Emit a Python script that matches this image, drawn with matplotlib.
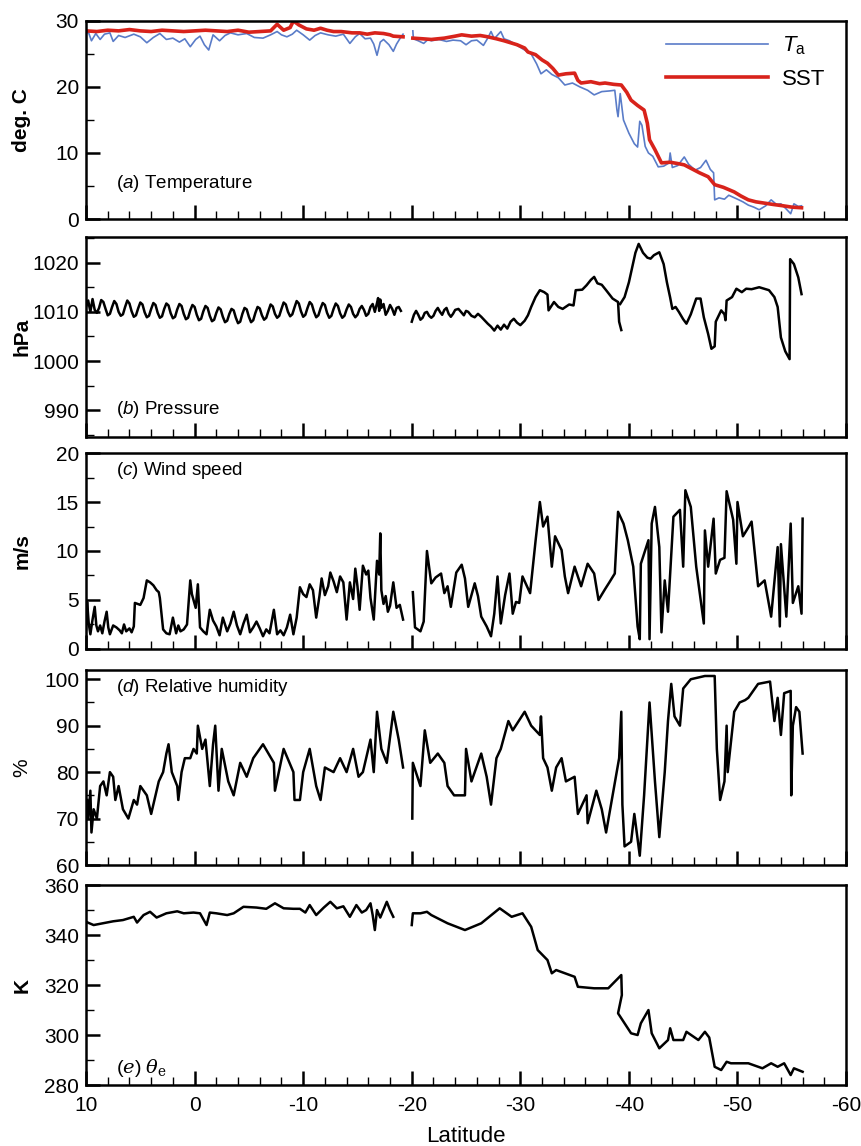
import numpy as np
import matplotlib
matplotlib.use("Agg")
import matplotlib.pyplot as plt
from matplotlib.ticker import MultipleLocator

plt.rcParams['font.family'] = ['Liberation Sans', 'DejaVu Sans']
plt.rcParams['mathtext.fontset'] = 'custom'
plt.rcParams['mathtext.rm'] = 'Liberation Sans'
plt.rcParams['mathtext.it'] = 'Liberation Sans:italic'
plt.rcParams['axes.unicode_minus'] = False

nan = np.nan

# (a) temperature
sst_lat = [10, 9, 8, 7, 6, 5, 4, 3, 2, 1, 0, -1, -2, -3, -4, -5, -6, -7, -7.6, -8.2, -8.8, -9.1, -9.6,
           -10.3, -11, -11.6, -12.2, -12.8, -13.5, -14.5, -15.2, -15.9, -16.6, -17.4, -18.0, -18.3, -19.2, nan,
           -20.1, -21.0, -21.8, -23.0, -24.0, -24.6, -25.5, -26.3, -27.0, -27.8, -28.5, -28.9, -29.7, -30.4,
           -30.7, -31.4, -32.0, -32.5, -33.0, -33.5, -34.2, -35.0, -35.3, -35.6, -36.5, -37.3, -37.8, -38.6,
           -39.3, -39.8, -40.2, -40.8, -41.4, -41.7, -41.9, -42.4, -43.0, -43.8, -44.5, -45.1, -45.8, -46.5,
           -47.3, -47.9, -48.7, -49.7, -50.3, -51.0, -51.7, -52.5, -53.3, -54.2, -55.0, -55.9]
sst = [28.5, 28.4, 28.6, 28.5, 28.7, 28.5, 28.4, 28.6, 28.5, 28.4, 28.5, 28.6, 28.5, 28.4, 28.6, 28.3, 28.4,
       28.5, 29.5, 28.6, 29.0, 30.0, 29.4, 28.8, 28.6, 28.9, 28.6, 28.4, 28.4, 28.2, 28.2, 28.0, 28.2, 28.1,
       27.9, 27.7, 27.6, nan,
       27.4, 27.3, 27.2, 27.4, 27.7, 27.9, 27.7, 27.8, 27.6, 27.3, 27.0, 26.8, 26.4, 25.9, 25.3, 24.9, 24.1,
       23.6, 22.8, 21.8, 22.0, 22.1, 21.0, 20.6, 20.8, 20.5, 20.6, 20.4, 20.3, 19.2, 18.0, 17.2, 16.5, 14.5,
       12.0, 10.5, 8.5, 8.6, 8.4, 8.2, 7.6, 7.0, 6.4, 5.2, 4.8, 4.1, 3.5, 2.9, 2.6, 2.4, 2.2, 2.0, 1.8, 1.7]

ta_lat = [10, 9.8, 9.5, 9.1, 8.7, 8.3, 7.8, 7.5, 7.0, 6.4, 5.6, 5.0, 4.4, 3.8, 3.2, 2.6, 2.0, 1.4, 0.9, 0.4,
          -0.1, -0.5, -0.9, -1.3, -1.7, -2.3, -2.8, -3.3, -4.0, -4.8, -5.5, -6.3, -7.0, -7.6, -8.0, -8.5, -9.0,
          -9.4, -10.0, -10.6, -11.1, -11.6, -12.3, -13.0, -13.7, -14.3, -14.8, -15.2, -15.7, -16.2, -16.5,
          -16.8, -17.1, -17.4, -17.9, -18.3, -18.6, -18.9, -19.2, nan,
          -20.1, -20.15, -20.6, -21.1, -21.5, -21.8, -22.5, -23.2, -23.8, -24.5, -25.0, -25.5, -26.0, -26.6,
          -27.0, -27.3, -27.6, -28.2, -28.5, -29.0, -29.5, -30.2, -31.0, -31.5, -31.9, -32.4, -32.9, -33.5,
          -34.1, -34.8, -35.5, -36.2, -36.8, -37.5, -38.2, -38.7, -38.9, -39.0, -39.2, -39.5, -40.0, -40.5,
          -40.8, -41.0, -41.2, -41.5, -41.8, -42.2, -42.7, -43.2, -43.7, -43.8, -44.0, -44.5, -45.1, -45.5,
          -46.1, -46.6, -47.1, -47.5, -47.8, -47.9, -48.3, -48.8, -49.2, -50.0, -50.5, -51.0, -51.5, -52.0,
          -52.6, -53.1, -53.6, -54.0, -54.5, -54.9, -55.2, -55.6, -55.9]
ta = [28.0, 28.4, 27.0, 28.1, 27.2, 28.0, 28.2, 26.9, 27.8, 27.5, 28.0, 27.6, 26.7, 27.5, 28.1, 27.2, 27.4,
      26.8, 27.3, 26.1, 27.2, 27.7, 26.4, 25.6, 27.9, 27.0, 27.8, 28.2, 27.9, 28.1, 27.5, 27.4, 27.9, 28.4,
      27.9, 27.6, 28.0, 28.6, 27.9, 27.1, 27.8, 28.2, 27.9, 27.7, 28.0, 26.6, 27.6, 28.1, 27.3, 27.4, 26.5,
      24.8, 26.8, 27.2, 26.4, 25.4, 26.5, 27.3, 28.0, nan,
      28.5, 27.3, 27.0, 26.6, 27.2, 27.0, 27.2, 26.9, 27.1, 27.0, 26.4, 27.0, 27.1, 26.3, 27.4, 28.4, 27.3,
      28.4, 27.3, 27.0, 26.5, 25.8, 25.0, 23.5, 22.0, 22.6, 21.9, 21.4, 20.3, 20.6, 20.0, 19.5, 18.8, 19.3,
      19.4, 19.5, 16.5, 15.5, 19.0, 15.0, 13.0, 11.4, 10.9, 14.8, 14.2, 11.0, 10.0, 9.5, 7.9, 8.0, 8.5, 10.0,
      7.8, 8.1, 9.4, 8.3, 7.4, 7.8, 8.9, 7.5, 7.0, 2.9, 3.2, 3.0, 3.6, 3.0, 2.6, 2.1, 1.8, 1.4, 2.0, 2.9,
      2.2, 2.3, 1.5, 0.8, 2.3, 1.9, 2.0]

# (b) pressure
p_lat = [10.0, 9.8, 9.6, 9.4, 9.2, 9.0, 8.8, 8.6, 8.4, 8.2, 8.0, 7.8, 7.6, 7.4, 7.2, 7.0, 6.8, 6.6, 6.4, 6.2,
         6.0, 5.8, 5.6, 5.4, 5.2, 5.0, 4.8, 4.6, 4.4, 4.2, 4.0, 3.8, 3.6, 3.4, 3.2, 3.0, 2.8, 2.6, 2.4, 2.2,
         2.0, 1.8, 1.6, 1.4, 1.2, 1.0, 0.8, 0.6, 0.4, 0.2, 0.0, -0.2, -0.4, -0.6, -0.8, -1.0, -1.2, -1.4,
         -1.6, -1.8, -2.0, -2.2, -2.4, -2.6, -2.8, -3.0, -3.2, -3.4, -3.6, -3.8, -4.0, -4.2, -4.4, -4.6,
         -4.8, -5.0, -5.2, -5.4, -5.6, -5.8, -6.0, -6.2, -6.4, -6.6, -6.8, -7.0, -7.2, -7.4, -7.6, -7.8,
         -8.0, -8.2, -8.4, -8.6, -8.8, -9.0, -9.2, -9.4, -9.6, -9.8, -10.0, -10.2, -10.4, -10.6, -10.8,
         -11.0, -11.2, -11.4, -11.6, -11.8, -12.0, -12.2, -12.4, -12.6, -12.8, -13.0, -13.2, -13.4, -13.6,
         -13.8, -14.0, -14.2, -14.4, -14.6, -14.8, -15.0, -15.2, -15.4, -15.6, -15.8, -16.0, -16.2, -16.4,
         -16.6, -16.8, -16.9, -17.0, -17.1, -17.2, -17.4, -17.6, -17.8, -18.0, -18.2, -18.4, -18.6, -18.8,
         -19.0, nan,
         -20.0, -20.2, -20.4, -20.6, -20.8, -21.0, -21.2, -21.4, -21.6, -21.8, -22.0, -22.2, -22.4, -22.6,
         -22.8, -23.0, -23.2, -23.4, -23.6, -23.8, -24.0, -24.3, -24.6, -24.8, -25.0, -25.2, -25.5, -25.8,
         -26.1, -26.4, -26.7, -27.0, -27.3, -27.6, -27.9, -28.2, -28.5, -28.8, -29.1, -29.4, -29.7, -30.0,
         -30.4, -30.7, -31.0, -31.4, -31.8, -32.2, -32.5, -32.6, -33.1, -33.5, -33.9, -34.5, -34.9, -35.1,
         -35.7, -36.1, -36.5, -36.8, -37.1, -37.5, -37.9, -38.5, -39.0, -39.1, -39.3, nan,
         -39.2, -39.6, -40.0, -40.3, -40.6, -40.9, -41.3, -41.7, -42.0, -42.3, -42.8, -43.2, -43.5, -43.8,
         -44.0, -44.3, -44.6, -45.0, -45.3, -45.7, -46.2, -46.6, -46.9, -47.3, -47.6, -47.9, -48.0, -48.5,
         -48.8, -48.9, -49.0, -49.5, -49.9, -50.4, -50.8, -51.3, -52.0, -52.9, -53.4, -53.7, -54.0, -54.4,
         -54.8, -54.85, -55.2, -55.6, -55.9]
pres = [1011.0, 1012.3, 1010.0, 1012.6, 1010.4, 1009.8, 1010.8, 1012.4, 1012.0, 1010.6, 1009.3, 1009.6,
        1011.0, 1012.2, 1011.6, 1010.0, 1009.2, 1009.5, 1011.0, 1012.3, 1011.7, 1010.1, 1009.0, 1009.3,
        1010.7, 1011.9, 1011.5, 1009.9, 1008.9, 1009.2, 1010.6, 1011.8, 1011.4, 1009.8, 1008.8, 1009.1,
        1010.6, 1011.7, 1011.3, 1009.7, 1008.7, 1009.0, 1010.5, 1011.6, 1011.2, 1009.6, 1008.5, 1008.8,
        1010.3, 1011.4, 1011.0, 1009.4, 1008.3, 1008.6, 1010.1, 1011.2, 1010.8, 1009.2, 1008.1, 1008.4,
        1009.8, 1010.9, 1010.5, 1009.0, 1007.9, 1008.2, 1009.6, 1010.6, 1010.3, 1008.8, 1007.7, 1008.0,
        1009.6, 1010.8, 1010.5, 1009.0, 1007.9, 1008.3, 1009.8, 1011.0, 1010.7, 1009.3, 1008.4, 1008.8,
        1010.2, 1011.5, 1011.1, 1009.6, 1008.8, 1009.2, 1010.6, 1011.9, 1011.5, 1010.0, 1009.1, 1009.5,
        1010.9, 1012.2, 1011.7, 1010.1, 1009.0, 1009.4, 1010.8, 1012.0, 1011.5, 1010.0, 1008.9, 1009.3,
        1010.7, 1011.8, 1011.4, 1009.8, 1008.8, 1009.2, 1010.6, 1011.7, 1011.2, 1009.7, 1008.8, 1009.2,
        1010.5, 1011.5, 1011.0, 1009.6, 1008.9, 1009.4, 1010.6, 1011.2, 1010.4, 1009.2, 1009.6, 1011.0,
        1011.6, 1010.0, 1011.8, 1012.8, 1010.2, 1012.5, 1010.8, 1011.6, 1009.4, 1010.2, 1011.4, 1010.6,
        1009.4, 1010.8, 1011.0, 1010.2, nan,
        1008.0, 1009.4, 1010.2, 1009.4, 1008.4, 1008.8, 1009.8, 1010.0, 1009.2, 1008.8, 1009.2, 1010.2,
        1010.8, 1010.0, 1009.4, 1010.4, 1010.8, 1009.6, 1009.0, 1009.6, 1010.4, 1010.6, 1009.8, 1009.3,
        1010.2, 1010.0, 1009.2, 1008.9, 1009.6, 1009.0, 1008.3, 1007.6, 1007.0, 1006.2, 1007.2, 1006.4,
        1007.4, 1006.6, 1008.0, 1008.6, 1007.8, 1007.3, 1008.2, 1009.3, 1011.0, 1013.0, 1014.4, 1014.0,
        1013.5, 1010.3, 1012.0, 1011.0, 1010.6, 1011.5, 1011.3, 1014.4, 1014.5, 1015.4, 1016.5, 1017.1,
        1015.8, 1015.5, 1014.4, 1012.7, 1012.0, 1008.0, 1006.3, nan,
        1011.6, 1013.0, 1016.0, 1019.0, 1022.0, 1023.8, 1022.0, 1021.0, 1020.8, 1021.5, 1022.1, 1019.7,
        1016.0, 1012.9, 1010.6, 1011.0, 1010.0, 1008.5, 1007.6, 1009.5, 1012.7, 1012.7, 1008.9, 1005.5,
        1002.5, 1003.0, 1008.0, 1010.3, 1009.5, 1008.3, 1012.3, 1013.0, 1014.7, 1014.0, 1014.7, 1014.6,
        1015.0, 1014.4, 1013.0, 1011.0, 1004.8, 1002.0, 1000.4, 1020.7, 1019.7, 1017.0, 1013.6]

# (c) wind speed
w_lat = [10.0, 9.9, 9.75, 9.6, 9.4, 9.2, 9.05, 8.9, 8.7, 8.5, 8.3, 8.1, 7.95, 7.8, 7.5, 7.2, 6.9, 6.7, 6.5,
         6.3, 6.0, 5.8, 5.6, 5.5, 5.0, 4.7, 4.4, 4.1, 3.8, 3.5, 3.3, 3.2, 2.9, 2.6, 2.3, 2.0, 1.7, 1.5, 1.3,
         1.0, 0.7, 0.4, 0.25, 0.1, -0.1, -0.3, -0.5, -0.8, -1.1, -1.4, -1.7, -2.0, -2.3, -2.6, -3.0, -3.3,
         -3.6, -3.9, -4.2, -4.5, -4.8, -5.1, -5.4, -5.7, -6.0, -6.3, -6.6, -6.9, -7.3, -7.6, -7.9, -8.2,
         -8.5, -8.8, -9.1, -9.4, -9.7, -10.0, -10.3, -10.6, -10.9, -11.2, -11.5, -11.7, -12.0, -12.3, -12.5,
         -12.8, -13.1, -13.4, -13.7, -14.0, -14.3, -14.6, -14.8, -15.0, -15.2, -15.5, -15.8, -16.0, -16.2,
         -16.5, -16.8, -17.0, -17.1, -17.2, -17.4, -17.6, -17.8, -18.0, -18.3, -18.6, -18.9, -19.2, nan,
         -20.1, -20.3, -20.8, -21.1, -21.4, -21.8, -22.2, -22.7, -23.0, -23.3, -23.6, -24.1, -24.6, -24.9,
         -25.2, -25.8, -26.1, -26.4, -26.9, -27.3, -27.6, -27.9, -28.2, -28.6, -29.0, -29.3, -29.6, -29.9,
         -30.2, -30.9, -31.4, -31.8, -32.1, -32.5, -32.9, -33.2, -33.8, -34.1, -34.4, -35.0, -35.6, -36.2,
         -36.8, -37.2, -37.8, -38.2, -38.7, -39.0, -39.5, -39.9, -40.4, -40.8, -41.0, -41.1, -41.8, -41.9,
         -42.1, -42.4, -42.8, -43.0, -43.3, -43.6, -44.1, -44.7, -45.0, -45.2, -45.7, -46.2, -46.9, -47.0,
         -47.3, -47.8, -48.0, -48.4, -48.8, -49.0, -49.6, -49.9, -50.0, -50.5, -51.0, -51.3, -51.9, -52.5,
         -53.1, -53.7, -53.9, -54.0, -54.5, -54.9, -55.1, -55.6, -55.9, -56.0]
wind = [2.0, 4.8, 2.6, 1.5, 3.0, 4.3, 2.4, 1.8, 2.4, 1.6, 2.8, 3.8, 2.2, 1.5, 2.4, 2.2, 1.9, 1.6, 2.5, 1.8,
        2.1, 1.7, 2.3, 4.7, 4.5, 5.2, 7.0, 6.8, 6.5, 6.0, 5.8, 5.2, 2.0, 1.6, 1.5, 3.2, 1.6, 2.4, 1.8, 2.0,
        2.5, 7.0, 5.6, 5.0, 4.2, 6.6, 2.2, 1.8, 1.5, 4.0, 2.9, 2.3, 1.4, 3.2, 1.8, 2.6, 3.8, 2.4, 1.5, 2.6,
        3.5, 1.7, 2.2, 2.8, 2.1, 1.3, 2.0, 1.6, 4.0, 1.5, 1.9, 1.4, 2.2, 3.5, 1.5, 3.2, 6.3, 5.6, 5.3, 6.6,
        6.0, 3.2, 5.4, 7.2, 5.5, 6.4, 7.8, 6.9, 5.8, 7.4, 6.8, 3.0, 6.8, 5.1, 8.2, 6.4, 4.0, 8.5, 7.6, 8.0,
        5.2, 3.0, 9.0, 7.6, 11.8, 6.0, 4.6, 5.4, 3.8, 4.4, 6.8, 4.2, 4.5, 3.0, nan,
        5.8, 2.2, 1.8, 2.8, 10.0, 6.7, 7.3, 7.7, 5.7, 6.4, 4.3, 7.8, 8.6, 7.2, 4.3, 6.7, 5.4, 3.3, 2.3, 1.3,
        3.6, 7.4, 2.6, 5.5, 7.7, 3.6, 4.8, 4.7, 7.4, 5.7, 11.0, 15.0, 12.5, 13.5, 8.4, 11.5, 10.1, 7.4, 5.7,
        8.4, 6.4, 8.7, 7.7, 5.0, 6.1, 6.8, 7.7, 14.0, 12.8, 11.1, 8.4, 2.3, 1.0, 8.7, 11.1, 1.0, 12.8, 14.5,
        10.4, 1.7, 7.0, 3.8, 13.5, 14.2, 8.4, 16.2, 14.5, 8.4, 2.6, 12.1, 8.4, 13.3, 7.7, 9.1, 9.3, 16.1,
        13.2, 8.7, 15.0, 11.5, 12.4, 13.0, 6.4, 7.0, 3.3, 10.4, 2.3, 10.7, 3.3, 12.8, 4.7, 6.4, 3.6, 13.3]

# (d) relative humidity
rh_lat = [9.9, 9.8, 9.6, 9.5, 9.3, 9.0, 8.7, 8.4, 8.1, 7.8, 7.5, 7.3, 7.0, 6.6, 6.1, 5.6, 5.3, 5.0, 4.4, 4.0,
          3.3, 2.9, 2.6, 2.4, 2.1, 1.6, 1.5, 1.2, 0.9, 0.4, 0.1, -0.2, -0.3, -0.7, -1.0, -1.4, -1.7, -1.9,
          -2.2, -2.5, -3.1, -3.6, -4.2, -4.8, -5.4, -6.3, -7.3, -7.4, -8.2, -9.1, -9.2, -9.7, -10.0, -10.6,
          -11.2, -11.6, -12.0, -12.8, -13.4, -14.0, -14.6, -15.1, -15.5, -16.2, -16.5, -16.8, -17.2, -17.7,
          -18.3, -18.8, -19.2, nan,
          -20.05, -20.1, -20.8, -21.2, -21.7, -22.4, -23.0, -23.3, -23.9, -24.9, -25.0, -25.5, -26.4, -26.9,
          -27.3, -27.8, -28.2, -28.9, -29.3, -30.4, -31.0, -31.8, -31.9, -32.1, -32.5, -32.9, -33.3, -33.8,
          -34.2, -35.0, -35.3, -36.1, -36.2, -37.0, -37.5, -37.9, -38.5, -39.1, -39.3, -39.4, -39.6, -40.2,
          -40.5, -41.0, -41.4, -41.9, -42.4, -42.8, -43.3, -43.6, -43.9, -44.2, -44.7, -45.0, -45.7, -47.0,
          -47.9, -48.1, -48.4, -48.8, -49.0, -49.1, -49.7, -50.2, -50.7, -51.0, -51.9, -53.0, -53.4, -53.7,
          -54.0, -54.3, -54.9, -54.95, -55.1, -55.4, -55.7, -56.0]
rh = [74, 70, 76, 67, 72, 70, 77, 78, 75, 80, 79, 74, 77, 72, 70, 74, 73, 77, 75, 71, 78, 80, 84, 86, 80,
      77, 74, 80, 83, 83, 85, 84, 90, 85, 87, 77, 86, 90, 76, 85, 78, 75, 82, 79, 83, 86, 82, 76, 85, 80, 74,
      74, 80, 85, 77, 74, 81, 80, 83, 80, 85, 79, 80, 87, 80, 93, 85, 82, 93, 87, 81, nan,
      70, 82, 77, 89, 82, 84, 82, 77, 75, 75, 85, 78, 84, 79, 73, 83, 85, 91, 89, 93, 90, 88, 92, 83, 81,
      76, 81, 83, 78, 79, 71, 75, 69, 76, 72, 67, 75, 83, 93, 73, 64, 65, 71, 62, 75, 95, 78, 66, 80, 91,
      99, 92, 90, 98, 100, 100.7, 100.7, 85, 74, 78, 90, 80, 93, 95, 95.5, 96, 99, 99.5, 91, 96, 88, 97,
      97.5, 75, 90, 94, 93, 84]

# (e) theta_e
th_lat = [10.0, 9.3, 8.7, 7.5, 6.6, 5.6, 5.3, 4.7, 4.1, 3.5, 2.6, 1.6, 1.0, 0.1, -0.5, -1.1, -1.4, -2.0, -3.0,
          -3.6, -4.5, -5.7, -6.6, -7.4, -8.2, -9.1, -9.7, -10.2, -10.6, -11.2, -11.9, -12.5, -13.1, -13.7,
          -14.3, -14.9, -15.4, -15.8, -16.2, -16.4, -16.6, -16.8, -17.1, -17.7, -18.0, -18.3, nan,
          -20.0, -20.1, -20.8, -21.4, -21.8, -23.3, -24.9, -26.4, -28.1, -29.2, -30.2, -31.0, -31.6, -32.5,
          -32.9, -33.3, -35.0, -35.3, -36.8, -38.1, -39.3, -39.35, -39.0, -40.2, -40.8, -41.1, -41.8, -42.1,
          -42.8, -43.6, -43.8, -44.1, -45.0, -45.3, -46.4, -47.0, -47.4, -47.9, -48.5, -49.0, -49.4, -51.0,
          -52.3, -53.1, -53.7, -54.3, -54.9, -55.2, -56.0]
theta = [345.3, 344, 344.5, 345.5, 346, 347.3, 345, 348, 349.3, 347, 348.7, 349.5, 348.7, 349, 348.7, 344,
         349, 348.7, 348, 348.7, 351.3, 351, 350.5, 352.7, 350.7, 350.5, 350.5, 349, 352, 348, 351, 353.3,
         350.7, 351.5, 347.3, 352, 349, 350, 352.7, 348, 342, 350, 347, 353.3, 350, 347.3, nan,
         344, 348.7, 348.7, 349.3, 348, 344.7, 342, 344.7, 350.7, 347.3, 348.7, 343.3, 334, 330, 324.7, 326,
         323.3, 319.3, 318.7, 318.7, 324, 316, 308.7, 300.7, 300, 304.7, 310, 300.7, 294.7, 298, 302.7, 298,
         298, 301.3, 298, 301.3, 299, 287.3, 286, 289.3, 288.7, 288.7, 286.7, 288.7, 287.3, 288.7, 284, 286.7,
         285.3]

ylabels = ["deg. C", "hPa", "m/s", "%", "K"]
ylims = [(0, 30), (984.6, 1025.2), (0, 20), (60, 102), (280, 360)]
ymajor = [10, 10, 5, 10, 20]
yminor = [5, 5, 2.5, 5, 10]
bold = [True, True, True, False, True]

fig = plt.figure(figsize=(8.62, 11.46), dpi=100)
boxes = [[0.0998, 0.8089, 0.8817, 0.1728],
         [0.0998, 0.6187, 0.8817, 0.1745],
         [0.0998, 0.4337, 0.8817, 0.1710],
         [0.0998, 0.2452, 0.8817, 0.1702],
         [0.0998, 0.0532, 0.8817, 0.1745]]
axs = [fig.add_axes(b) for b in boxes]

axs[0].plot(ta_lat, ta, color="#5a7cc8", lw=1.2, label=r"$\it{T}_{\rm a}$")
axs[0].plot(sst_lat, sst, color="#d8231b", lw=2.6, label="SST")
axs[1].plot(p_lat, pres, color="black", lw=1.8)
axs[2].plot(w_lat, wind, color="black", lw=1.8)
axs[3].plot(rh_lat, rh, color="black", lw=1.8)
axs[4].plot(th_lat, theta, color="black", lw=1.8)

leg = axs[0].legend(loc="upper right", frameon=False, fontsize=16, handlelength=4.6,
                    labelspacing=0.55, handletextpad=0.6, borderaxespad=0.2,
                    bbox_to_anchor=(0.99, 1.0))

for i, ax in enumerate(axs):
    ax.set_xlim(10, -60)
    ax.set_ylim(*ylims[i])
    ax.xaxis.set_major_locator(MultipleLocator(10))
    ax.xaxis.set_minor_locator(MultipleLocator(2))
    ax.yaxis.set_major_locator(MultipleLocator(ymajor[i]))
    ax.yaxis.set_minor_locator(MultipleLocator(yminor[i]))
    ax.tick_params(which="both", direction="in", top=False, right=False, labelsize=15)
    ax.tick_params(which="major", length=10, width=1.8)
    ax.tick_params(which="minor", length=6, width=1.0)
    ax.tick_params(axis="y", which="both", pad=5)
    for s in ax.spines.values():
        s.set_linewidth(1.8)
    if i < 4:
        ax.tick_params(labelbottom=False)
    ax.set_ylabel(ylabels[i], fontsize=15, fontweight="bold" if bold[i] else "normal")
    ax.yaxis.set_label_coords(-0.072, 0.5)

axs[4].set_xlabel("Latitude", fontsize=16, labelpad=8)
axs[4].tick_params(axis="x", pad=8)

axs[0].text(0.04, 0.18, r"($\it{a}$) Temperature", transform=axs[0].transAxes, fontsize=13.5, va="center")
axs[1].text(0.04, 0.135, r"($\it{b}$) Pressure", transform=axs[1].transAxes, fontsize=13.5, va="center")
axs[2].text(0.04, 0.91, r"($\it{c}$) Wind speed", transform=axs[2].transAxes, fontsize=13.5, va="center")
axs[3].text(0.04, 0.91, r"($\it{d}$) Relative humidity", transform=axs[3].transAxes, fontsize=13.5,
            va="center")
axs[4].text(0.04, 0.085, r"($\it{e}$) $\theta_{\rm e}$", transform=axs[4].transAxes, fontsize=14, va="center",
            math_fontfamily="dejavuserif")

fig.savefig("out.png", dpi=100)
